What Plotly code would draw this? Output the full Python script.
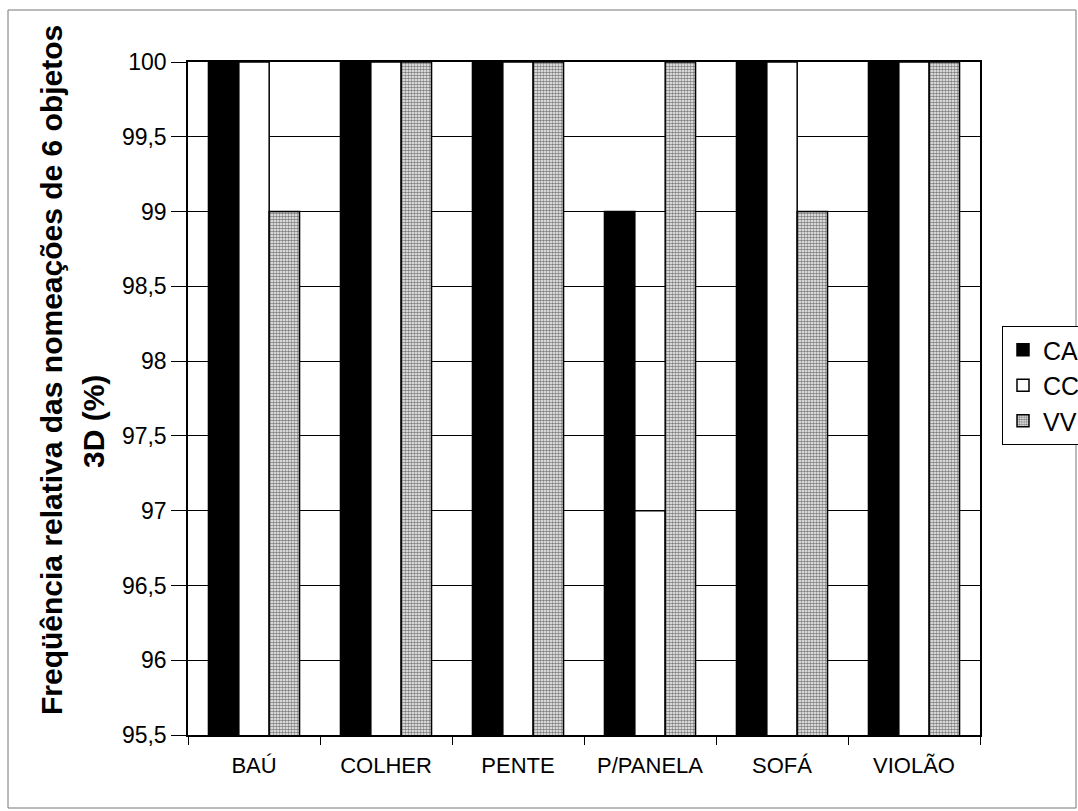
import plotly.graph_objects as go

# Naming frequency per object and group (%)
categories = ["BAÚ", "COLHER", "PENTE", "P/PANELA", "SOFÁ", "VIOLÃO"]
ca_values = [100, 100, 100, 99, 100, 100]
cc_values = [100, 100, 100, 97, 100, 100]
vv_values = [99, 100, 100, 100, 99, 100]

y_tick_values = [95.5, 96, 96.5, 97, 97.5, 98, 98.5, 99, 99.5, 100]
y_tick_labels = ["95,5", "96", "96,5", "97", "97,5", "98", "98,5", "99", "99,5", "100"]

title_line1 = "Freqüência relativa das nomeações de 6 objetos"
title_line2 = "3D (%)"

FONT = "Liberation Sans, Arial, sans-serif"
W, H = 1078, 811
L, R, T, B = 188, 98, 62, 76
PW, PH = W - L - R, H - T - B


def px_x(x):
    return (x - L) / PW


def px_y(y):
    return (H - B - y) / PH


outline = dict(color="black", width=1.5)

fig = go.Figure()
fig.add_trace(go.Bar(
    name="CA", x=categories, y=ca_values, legendgroup="ca",
    marker=dict(color="black", line=outline),
))
fig.add_trace(go.Bar(
    name="CC", x=categories, y=cc_values, legendgroup="cc",
    marker=dict(color="white", line=outline),
))
fig.add_trace(go.Bar(
    name="VV", x=categories, y=vv_values, legendgroup="vv",
    marker=dict(
        color="white", line=outline,
        pattern=dict(shape=".", fgcolor="black", bgcolor="white",
                     size=3, solidity=0.6),
    ),
))

fig.update_layout(
    width=W, height=H, autosize=False,
    margin=dict(l=L, r=R, t=T, b=B, pad=0, autoexpand=False),
    paper_bgcolor="white", plot_bgcolor="white",
    barmode="group", bargap=0.31, bargroupgap=0,
    font=dict(family=FONT, color="black"),
    showlegend=True,
    legend=dict(
        x=px_x(1002), y=px_y(326), xanchor="left", yanchor="top",
        bordercolor="black", borderwidth=1, bgcolor="white",
        font=dict(family=FONT, size=25, color="black"),
        traceorder="normal", tracegroupgap=11,
    ),
    xaxis=dict(
        showline=True, linecolor="black", linewidth=1.5, mirror=True,
        ticks="outside", tickson="boundaries", ticklen=8,
        tickcolor="black", tickwidth=1,
        tickfont=dict(family=FONT, size=22, color="black"),
        ticklabelstandoff=10,
        showgrid=False,
    ),
    yaxis=dict(
        range=[95.5, 100], tickvals=y_tick_values, ticktext=y_tick_labels,
        showline=True, linecolor="black", linewidth=1.5, mirror=True,
        ticks="outside", ticklen=15, tickcolor="black", tickwidth=1,
        tickfont=dict(family=FONT, size=23, color="black"),
        showgrid=True, gridcolor="black", gridwidth=1,
        zeroline=False,
    ),
    annotations=[
        dict(text="<b>" + title_line1 + "</b>", textangle=-90,
             xref="paper", yref="paper", x=px_x(51), y=px_y(370),
             xanchor="center", yanchor="middle", showarrow=False,
             font=dict(family=FONT, size=30, color="black")),
        dict(text="<b>" + title_line2 + "</b>", textangle=-90,
             xref="paper", yref="paper", x=px_x(93), y=px_y(422),
             xanchor="center", yanchor="middle", showarrow=False,
             font=dict(family=FONT, size=30, color="black")),
    ],
    shapes=[
        dict(type="rect", xref="paper", yref="paper",
             x0=px_x(8), x1=px_x(1076), y0=px_y(808), y1=px_y(10),
             line=dict(color="#777777", width=1), fillcolor="rgba(0,0,0,0)",
             layer="below"),
    ],
)

fig.write_html("out.html")
